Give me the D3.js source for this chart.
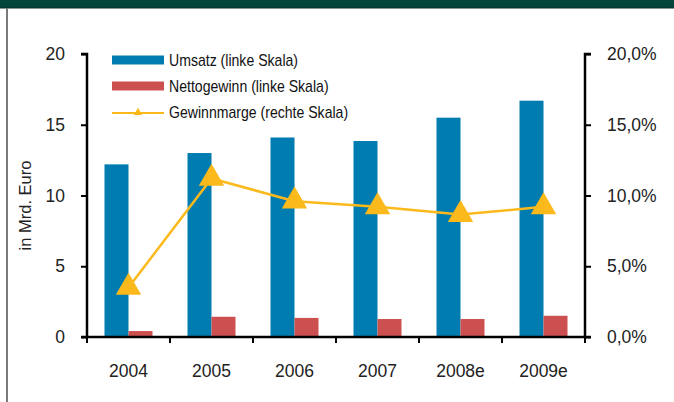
<!DOCTYPE html>
<html>
<head>
<meta charset="utf-8">
<script src="https://cdn.jsdelivr.net/npm/d3@7"></script>
<style>
  html, body { margin: 0; padding: 0; background: #fff; }
  svg { display: block; }
</style>
</head>
<body>
<svg id="chart" width="674" height="402"></svg>
<script>
// Jahre (Kategorien)
const years = ["2004", "2005", "2006", "2007", "2008e", "2009e"];
// Umsatz in Mrd. Euro (linke Skala)
const umsatz = [12.2, 13.0, 14.1, 13.85, 15.5, 16.7];
// Nettogewinn in Mrd. Euro (linke Skala)
const nettogewinn = [0.42, 1.43, 1.35, 1.27, 1.27, 1.5];
// Gewinnmarge in % (rechte Skala)
const gewinnmarge = [3.5, 11.2, 9.6, 9.2, 8.65, 9.2];
// Achsenbeschriftungen
const leftTicks = [0, 5, 10, 15, 20];
const rightTicks = [0, 5, 10, 15, 20];
const seriesNames = ["Umsatz (linke Skala)", "Nettogewinn (linke Skala)", "Gewinnmarge (rechte Skala)"];

const colBlue = "#007cb0";
const colRed = "#cd5050";
const colGold = "#fbb91c";

const svg = d3.select("#chart");
const W = 674, H = 402;
const m = { left: 87, right: 585, top: 54, bottom: 337 };

// Rahmen: dunkelgrüne Kopfleiste und grauer linker Rand
svg.append("rect").attr("x", 0).attr("y", 0).attr("width", W).attr("height", 8).attr("fill", "#01453d");
svg.append("line").attr("x1", 0).attr("x2", W).attr("y1", 8).attr("y2", 8).attr("stroke", "#0d2a26").attr("stroke-width", 1);
svg.append("rect").attr("x", 6).attr("y", 8).attr("width", 2).attr("height", H - 8).attr("fill", "#7a7a7a");

const x = d3.scaleBand().domain(years).range([m.left, m.right]).paddingInner(0).paddingOuter(0);
const yL = d3.scaleLinear().domain([0, 20]).range([m.bottom, m.top]);
const yR = d3.scaleLinear().domain([0, 20]).range([m.bottom, m.top]);

const barW = 24;

// Balken Umsatz
svg.append("g").selectAll("rect").data(years).join("rect")
  .attr("x", d => x(d) + x.bandwidth() / 2 - barW)
  .attr("width", barW)
  .attr("y", (d, i) => yL(umsatz[i]))
  .attr("height", (d, i) => yL(0) - yL(umsatz[i]))
  .attr("fill", colBlue);

// Balken Nettogewinn
svg.append("g").selectAll("rect").data(years).join("rect")
  .attr("x", d => x(d) + x.bandwidth() / 2)
  .attr("width", barW)
  .attr("y", (d, i) => yL(nettogewinn[i]))
  .attr("height", (d, i) => yL(0) - yL(nettogewinn[i]))
  .attr("fill", colRed);

// Linie Gewinnmarge
const line = d3.line()
  .x((d, i) => x(years[i]) + x.bandwidth() / 2)
  .y(d => yR(d));
svg.append("path").datum(gewinnmarge)
  .attr("d", line)
  .attr("fill", "none")
  .attr("stroke", colGold)
  .attr("stroke-width", 2.5);

const tri = d3.symbol().type(d3.symbolTriangle).size(280);
svg.append("g").selectAll("path").data(gewinnmarge).join("path")
  .attr("transform", (d, i) => `translate(${x(years[i]) + x.bandwidth() / 2},${yR(d)})`)
  .attr("d", tri)
  .attr("fill", colGold);

// Achsen
const axisFont = "'Liberation Sans', Arial, sans-serif";

const gL = svg.append("g").attr("transform", `translate(${m.left},0)`)
  .call(d3.axisLeft(yL).tickValues(leftTicks).tickSize(6).tickPadding(16).tickFormat(d3.format("d")));
const gR = svg.append("g").attr("transform", `translate(${m.right},0)`)
  .call(d3.axisRight(yR).tickValues(rightTicks).tickSize(6).tickPadding(16)
    .tickFormat(d => d.toFixed(1).replace(".", ",") + "%"));
const gB = svg.append("g").attr("transform", `translate(0,${m.bottom})`)
  .call(d3.axisBottom(x).tickSize(0).tickPadding(28));

// Trennstriche zwischen den Kategorien
const bounds = years.map(d => x(d)).concat([m.right]);
gB.selectAll("line.sep").data(bounds).join("line")
  .attr("class", "sep")
  .attr("x1", d => d).attr("x2", d => d)
  .attr("y1", 0).attr("y2", 6)
  .attr("stroke", "#000").attr("stroke-width", 2);

[gL, gR, gB].forEach(g => {
  g.select(".domain").attr("stroke", "#000").attr("stroke-width", 2.5);
  g.selectAll(".tick line").attr("stroke", "#000").attr("stroke-width", 2);
  g.selectAll("text").attr("font-family", axisFont).attr("font-size", 17.5).attr("fill", "#222");
});
gL.select(".domain").attr("d", `M-6,${m.top}H0V${m.bottom}`);
gR.select(".domain").attr("d", `M6,${m.top}H0V${m.bottom}`);
gB.select(".domain").attr("d", `M${m.left - 6},0H${m.right + 6}`);

// Achsentitel
svg.append("text")
  .attr("transform", `translate(31,${(m.top + m.bottom) / 2 + 10}) rotate(-90)`)
  .attr("text-anchor", "middle")
  .attr("font-family", axisFont)
  .attr("font-size", 16.5)
  .attr("fill", "#222")
  .text("in Mrd. Euro");

// Legende (schmal gesetzte Schrift)
const legFont = "'Liberation Sans', Arial, sans-serif";
const lg = svg.append("g").attr("transform", "translate(112,60)");
const rowH = 26;
lg.append("rect").attr("x", 0).attr("y", -4.5).attr("width", 52).attr("height", 9).attr("fill", colBlue);
lg.append("rect").attr("x", 0).attr("y", rowH - 4.5).attr("width", 52).attr("height", 9).attr("fill", colRed);
lg.append("line").attr("x1", 0).attr("x2", 52).attr("y1", 2 * rowH + 1).attr("y2", 2 * rowH + 1)
  .attr("stroke", colGold).attr("stroke-width", 2);
lg.append("path").attr("transform", `translate(26,${2 * rowH + 0.5})`)
  .attr("d", d3.symbol().type(d3.symbolTriangle).size(30)).attr("fill", colGold);
lg.selectAll("text").data(seriesNames).join("text")
  .attr("transform", (d, i) => `translate(57,${i * rowH + 5.5}) scale(0.88,1)`)
  .attr("font-family", legFont)
  .attr("font-size", 16)
  .attr("fill", "#111")
  .text(d => d);
</script>
</body>
</html>
